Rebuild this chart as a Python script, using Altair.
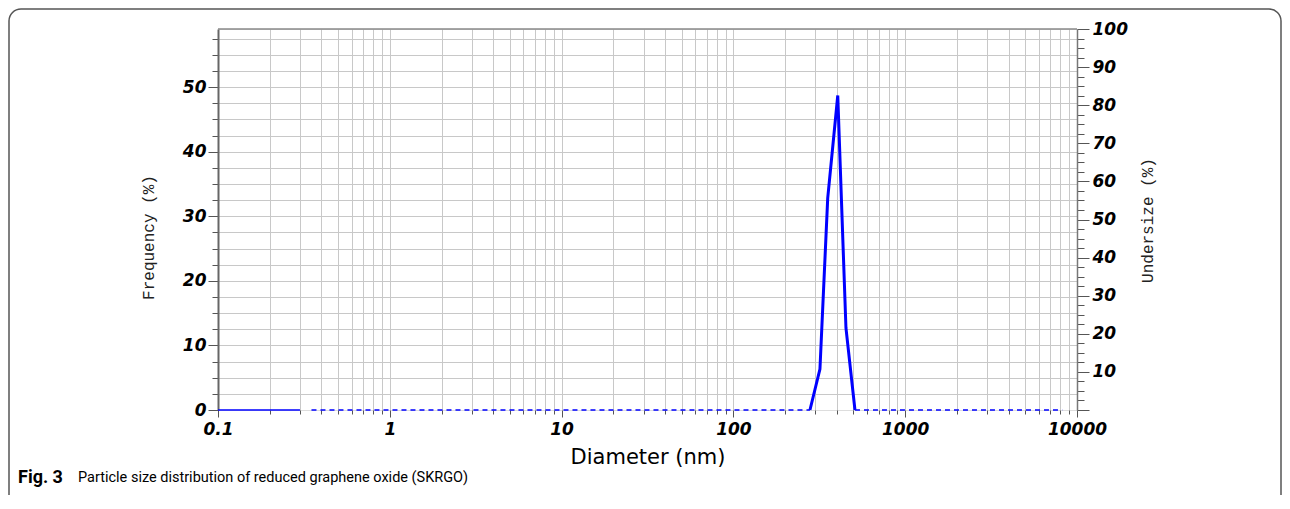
import altair as alt
import pandas as pd

# ---- data ----
base_d = [0.1, 0.3]
base_f = [0, 0]

peak_d = [279, 319, 354, 405, 452, 510]
peak_f = [0, 6.35, 32.8, 48.7, 12.7, 0]

dash_d = [0.35, 279, 510, 8200]
dash_u = [0, 0, 0, 0]
dash_seg = ["a", "a", "b", "b"]

x_ticks = [k * 10.0 ** e for e in range(-1, 4) for k in range(1, 10)] + [10000.0]
y_left_ticks = [i * 2.5 for i in range(24)]
y_right_ticks = [i * 2.5 for i in range(41)]

caption_bold = "Fig. 3"
caption_rest = "Particle size distribution of reduced graphene oxide (SKRGO)"

df_base = pd.DataFrame({"d": base_d, "f": base_f})
df_peak = pd.DataFrame({"d": peak_d, "f": peak_f})
df_dash = pd.DataFrame({"d": dash_d, "u": dash_u, "seg": dash_seg})
one = pd.DataFrame({"k": [0]})

W, H = 859, 381
TICKFONT = "DejaVu Sans"
MONO = "Liberation Mono, Courier New, monospace"
CAPFONT = "Liberation Sans Narrow, Roboto, sans-serif"
is_decade = "abs(log(datum.value)/LN10 - round(log(datum.value)/LN10)) < 1e-6"

x_axis = alt.Axis(
    values=x_ticks,
    labelExpr=f"({is_decade}) ? format(datum.value, '~g') : ''",
    tickSize={"condition": {"test": is_decade, "value": 7}, "value": 4},
    tickColor="#555", domain=False,
    grid=True, gridColor="#c8c8c8", gridWidth=1,
    labelFont=TICKFONT, labelFontWeight="bold", labelFontStyle="italic",
    labelFontSize=17, labelColor="black", labelPadding=4, labelFlush=False,
    labelOverlap=False,
    title="Diameter (nm)", titleFont="DejaVu Sans", titleFontWeight="normal",
    titleFontSize=21, titleColor="black", titlePadding=9, zindex=0,
)
x_enc = alt.X("d:Q", scale=alt.Scale(type="log", domain=[0.1, 10000], nice=False), axis=x_axis)

y_left = alt.Y(
    "f:Q",
    scale=alt.Scale(domain=[0, 59], nice=False, zero=True),
    axis=alt.Axis(
        values=y_left_ticks,
        labelExpr="datum.value % 10 == 0 ? datum.label : ''",
        tickSize={"condition": {"test": "datum.value % 10 == 0", "value": 10}, "value": 6},
        tickColor="#555", domainColor="#666", domainWidth=2,
        grid=True, gridColor="#c8c8c8", gridWidth=1,
        gridOpacity={"condition": {"test": "datum.value == 0", "value": 0}, "value": 1},
        labelFont=TICKFONT, labelFontWeight="bold", labelFontStyle="italic",
        labelFontSize=17, labelColor="black", labelPadding=2,
        title="Frequency (%)", titleFont=MONO, titleFontWeight="normal",
        titleFontSize=16, titleColor="#222", titleX=-70, titleY=208, titleAngle=270,
        titleAlign="center", titleBaseline="middle", zindex=0,
    ),
)

y_right = alt.Y(
    "u:Q",
    scale=alt.Scale(domain=[0, 100], nice=False),
    axis=alt.Axis(
        orient="right",
        values=y_right_ticks,
        labelExpr="(datum.value % 10 == 0 && datum.value > 0) ? datum.label : ''",
        tickSize={"condition": {"test": "datum.value % 10 == 0", "value": 12}, "value": 7},
        tickColor="#555", domainColor="#777", domainWidth=1.5,
        grid=False,
        labelFont=TICKFONT, labelFontWeight="bold", labelFontStyle="italic",
        labelFontSize=17, labelColor="black", labelPadding=3,
        title="Undersize (%)", titleFont=MONO, titleFontWeight="normal",
        titleFontSize=16, titleColor="#222", titleX=70, titleY=191, titleAngle=270,
        titleAlign="center", titleBaseline="middle", zindex=0,
    ),
)

base_line = alt.Chart(df_base).mark_line(color="#0000ff", strokeWidth=1.6).encode(x=x_enc, y=y_left)
peak_line = alt.Chart(df_peak).mark_line(color="#0000ff", strokeWidth=3).encode(x=x_enc, y=y_left)

# decorations: plot top border and the rounded figure frame
top_border = alt.Chart(one).mark_rule(color="#888", strokeWidth=1.5).encode(
    x=alt.value(0), x2=alt.value(W), y=alt.value(0)
)
frame = alt.Chart(one).mark_rect(
    fill=None, filled=False, stroke="#555", strokeWidth=1.5, cornerRadius=12
).encode(x=alt.value(-209), x2=alt.value(1063), y=alt.value(-20), y2=alt.value(478))

cap1 = alt.Chart(one).mark_text(
    font=CAPFONT, fontWeight="bold", fontSize=18,
    align="left", baseline="middle", color="black"
).encode(x=alt.value(-200), y=alt.value(449), text=alt.value(caption_bold))
cap2 = alt.Chart(one).mark_text(
    font=CAPFONT, fontSize=14.5,
    align="left", baseline="middle", color="black"
).encode(x=alt.value(-140), y=alt.value(449), text=alt.value(caption_rest))

left_layer = alt.layer(frame, top_border, base_line, peak_line, cap1, cap2)

dash_line = alt.Chart(df_dash).mark_line(
    color="#0000ff", strokeWidth=1.5, strokeDash=[5, 4]
).encode(x=x_enc, y=y_right, detail="seg:N")

chart = alt.layer(left_layer, dash_line).resolve_scale(y="independent").properties(
    width=W, height=H,
    autosize=alt.AutoSizeParams(type="none"),
    padding={"left": 210, "top": 21, "right": 205, "bottom": 85},
).configure_view(strokeWidth=0).configure(background="white")

chart.save("out.html", embed_options={"renderer": "svg", "actions": False})
